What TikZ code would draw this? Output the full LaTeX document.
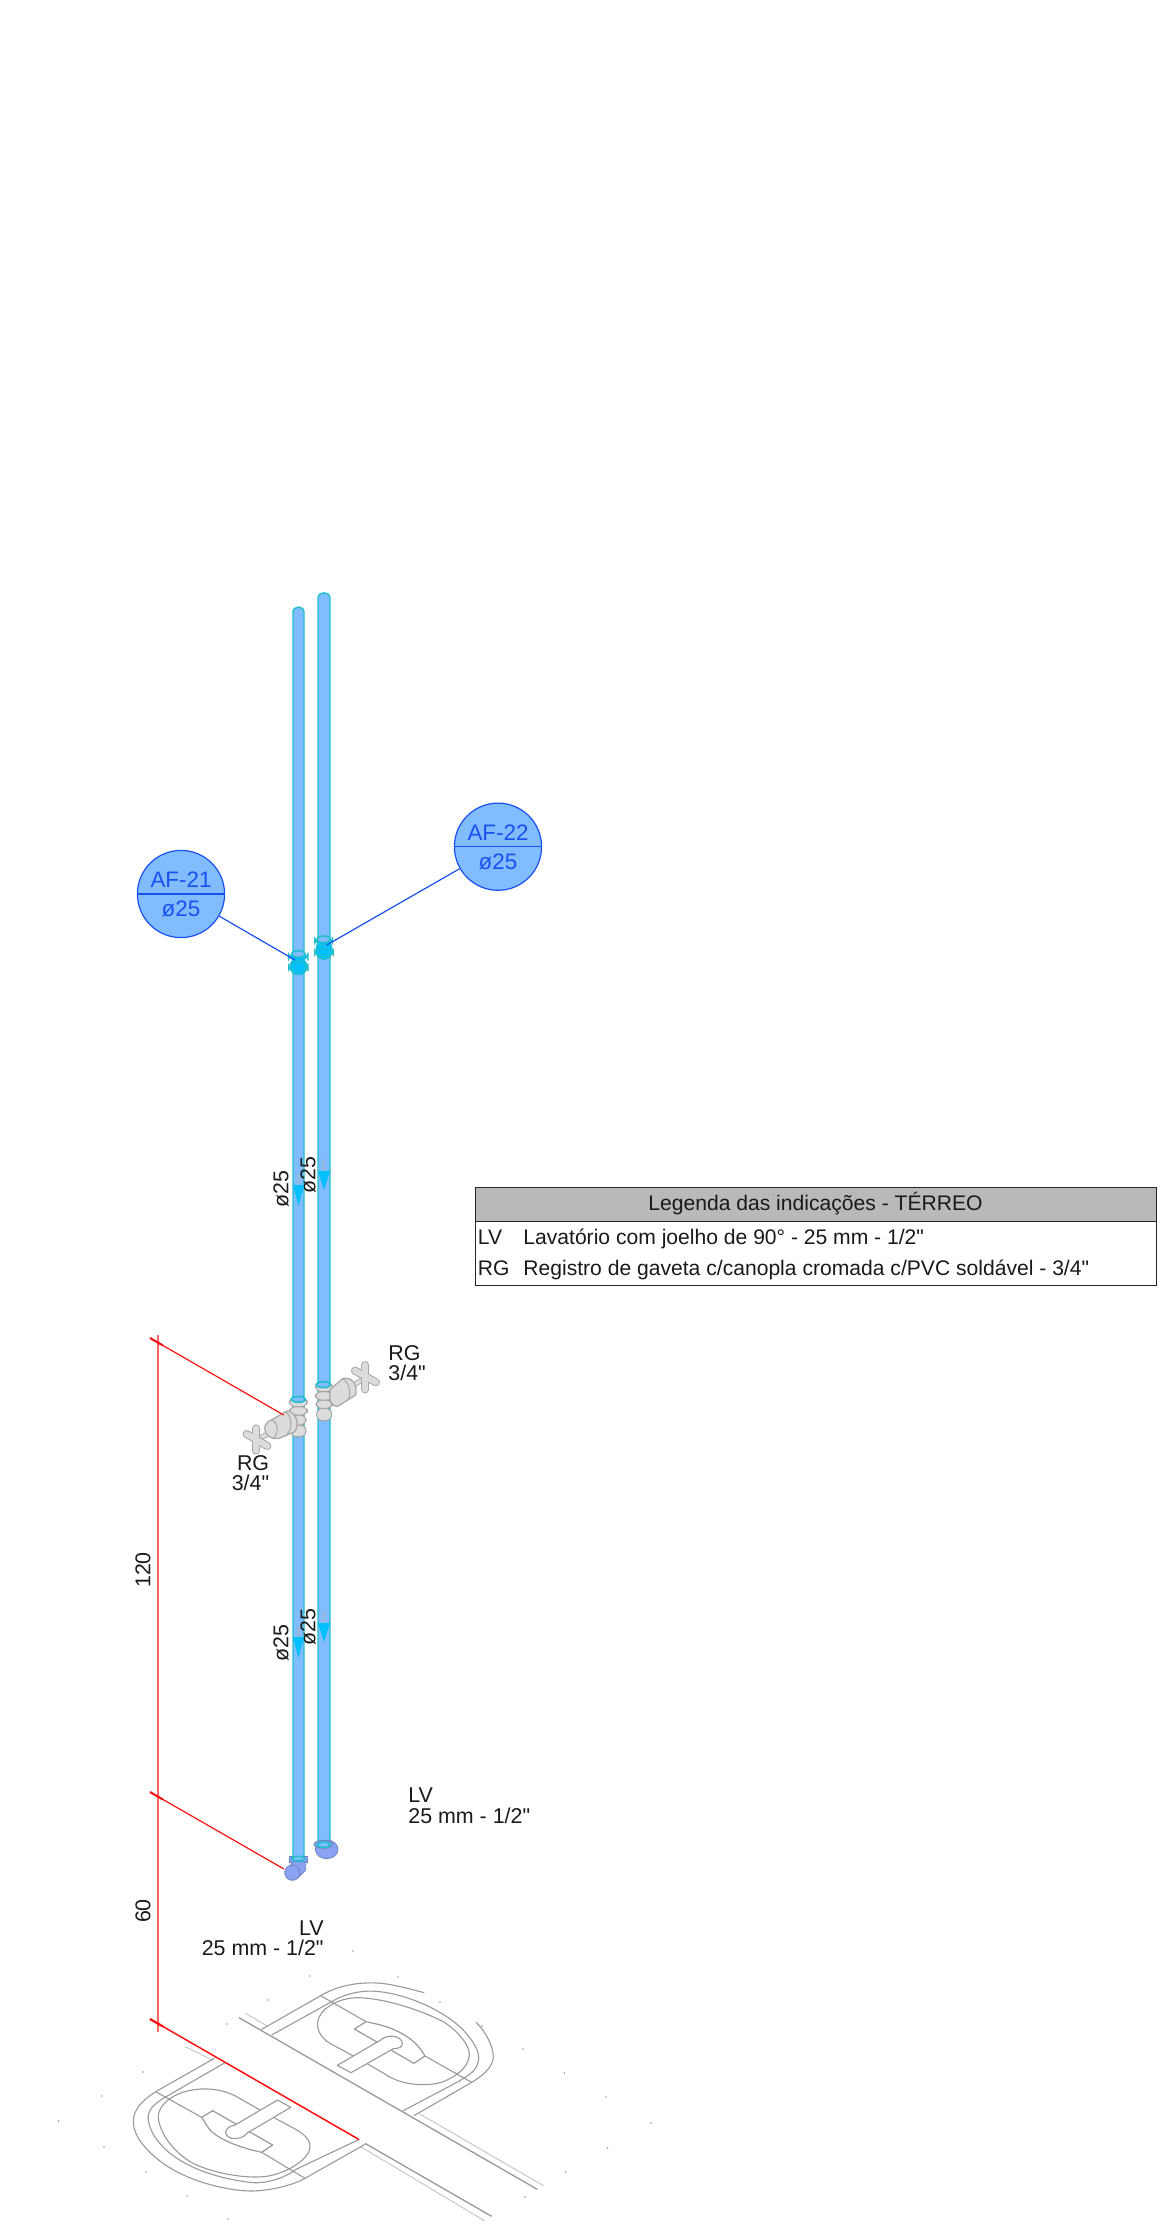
\documentclass[tikz,border=0pt]{standalone}
\usepackage{fontspec}
\setmainfont{Liberation Sans}
\newfontfamily\plainsans{Liberation Sans}
\definecolor{pipefill}{HTML}{80BCFF}
\definecolor{pipeedge}{HTML}{1FBFCB}
\definecolor{tagblue}{HTML}{1A4FF0}
\definecolor{cyanfit}{HTML}{00C0FF}
\definecolor{elbow}{HTML}{8AA2F2}
\definecolor{valvefill}{HTML}{DCDCDC}
\definecolor{valveedge}{HTML}{A6A6A6}
\definecolor{planline}{HTML}{999999}
\definecolor{planlight}{HTML}{C8C8C8}
\definecolor{dimred}{HTML}{FF1010}
\definecolor{headgrey}{HTML}{B9B9B9}
\tikzset{
  pipe/.style={fill=pipefill,draw=pipeedge,line width=0.7pt},
  tagcircle/.style={circle,draw=tagblue,fill=pipefill,line width=0.6pt,minimum size=43.6pt,inner sep=0pt},
  tagtext/.style={text=tagblue,font=\plainsans\fontsize{11.2}{13}\selectfont,inner sep=0pt},
  leader/.style={draw=tagblue,line width=0.6pt},
  dimline/.style={draw=dimred,line width=0.6pt},
  dimvert/.style={draw=dimred!65,line width=1pt},
  lab/.style={font=\plainsans\fontsize{10.7}{13}\selectfont,inner sep=0pt,text=black!90},
  legtext/.style={font=\plainsans\fontsize{10.55}{12}\selectfont,inner sep=0pt,text=black!90},
  plan/.style={draw=planline,line width=0.55pt,line join=round},
  planthin/.style={draw=planlight,line width=0.5pt},
  vring/.style={fill=valvefill,draw=valveedge,line width=0.5pt,rounded corners=3pt},
  vbody/.style={fill=valvefill,draw=valveedge,line width=0.6pt,line join=round},
  varmout/.style={draw=valveedge,line width=4pt,line cap=round},
  varmin/.style={draw=valvefill,line width=3pt,line cap=round},
  vstemout/.style={draw=valveedge,line width=2.6pt},
  vstemin/.style={draw=valvefill,line width=1.8pt},
  fitcy/.style={fill=cyanfit,draw=pipeedge,line width=0.5pt,rounded corners=4pt},
  ringtop/.style={fill=pipefill,draw=pipeedge,line width=0.8pt},
  flowarrow/.style={fill=cyanfit,draw=none},
  flowstem/.style={draw=black!30,line width=0.5pt},
  elb/.style={fill=elbow,draw=elbow!80!black,line width=0.4pt},
  speck/.style={fill=black!40,draw=none},
}
\begin{document}
\begin{tikzpicture}[x=0.5pt,y=-0.5pt]
\useasboundingbox (0,0) rectangle (1170,2227);

% ---------- plan (floor fixtures) ----------
\foreach \px/\py in {58.6/2121,102/2096,104/2147,146/2172,187/2196,228/2219,143/2072,227/2024,268/2000,310/1976,353/1951,398/1977,440/2002,482/2026,523/2049,564.5/2073,606/2097,651/2123,607.6/2148,565.7/2172,525/2197,483/2220}
  \fill[speck] (\px,\py) circle (0.45pt);

% right fixture and long lines (crop coordinates)
\begin{scope}[shift={(230,1960)},scale=1/3]
  \draw[plan,line width=0.65pt] (27,173) -- (922,688);
  \draw[plan,line width=0.65pt] (405,550) -- (785,769);
  \draw[planthin] (47,160) -- (110,197);
  \draw[planthin] (570,462) -- (940,677);
  \draw[planthin] (392,560) -- (760,780);
  \draw[plan] (95,208) -- (272,107) .. controls (330,72) and (400,65) .. (455,70) .. controls (500,75) and (550,90) .. (583,98);
  \draw[plan] (738,187) .. controls (760,205) and (790,255) .. (790,290) .. controls (790,325) and (750,352) .. (725,367) -- (552,467);
  \draw[plan] (125,225) -- (305,125) .. controls (345,100) and (400,90) .. (440,94) .. controls (530,102) and (640,150) .. (700,210) .. controls (730,245) and (752,275) .. (745,305) .. controls (738,335) and (715,345) .. (690,362) -- (518,453);
  \draw[plan] (370,288) -- (300,250) .. controls (265,230) and (255,195) .. (268,170) .. controls (285,135) and (340,112) .. (385,113) .. controls (460,115) and (560,145) .. (640,185) .. controls (680,210) and (720,255) .. (718,285) .. controls (715,325) and (675,350) .. (640,365) .. controls (590,382) and (510,375) .. (465,342) -- (410,310);
  \draw[plan] (272,107) -- (408,185);
  \draw[plan] (585,288) -- (725,367);
  \draw[plan,line width=0.6pt] (408,185) -- (373,207) -- (552,310) -- (585,288) .. controls (565,250) and (530,225) .. (490,208) .. controls (460,195) and (430,190) .. (408,185);
  \draw[plan,fill=white] (322,316) -- (452,240) .. controls (470,222) and (515,225) .. (517,250) .. controls (517,262) and (505,266) .. (490,266) -- (363,338) -- cycle;
\end{scope}

% left fixture (crop coordinates)
\begin{scope}[shift={(120,1990)},scale=1/3]
  \draw[planthin] (195,172) -- (205,174) -- (280,212);
  \draw[plan] (283,205) -- (107,305) .. controls (70,330) and (40,355) .. (40,395) .. controls (40,440) and (80,480) .. (110,505) .. controls (180,565) and (300,600) .. (390,603) .. controls (450,603) and (520,585) .. (555,565) -- (735,463);
  \draw[plan] (315,218) -- (135,322) .. controls (105,340) and (80,360) .. (85,390) .. controls (90,430) and (120,465) .. (150,490) .. controls (220,545) and (320,570) .. (400,578) .. controls (450,580) and (500,560) .. (530,537) -- (718,448);
  \draw[plan] (420,360) -- (350,320) .. controls (300,292) and (230,290) .. (180,310) .. controls (140,325) and (112,355) .. (115,385) .. controls (120,430) and (160,485) .. (215,518) .. controls (280,550) and (370,565) .. (430,560) .. controls (490,555) and (570,510) .. (570,470) .. controls (570,435) and (530,420) .. (462,383);
  \draw[plan] (107,305) -- (245,382);
  \draw[plan] (425,487) -- (555,565);
  \draw[plan,line width=0.6pt] (245,382) -- (278,362) -- (458,465) -- (425,487) .. controls (370,475) and (310,455) .. (275,425) .. controls (260,410) and (255,395) .. (245,382);
  \draw[plan,fill=white] (512,352) -- (473,330) -- (345,405) .. controls (315,410) and (305,435) .. (335,445) .. controls (355,448) and (375,440) .. (380,430) -- cycle;
\end{scope}

% ---------- pipes ----------
\filldraw[pipe] (298,1860) -- (293,1860) -- (293,612) .. controls (293,605.5) and (304,605.5) .. (304,612) -- (304,1860) -- (298,1860);
\filldraw[pipe] (324,1846) -- (318,1846) -- (318,598) .. controls (318,591) and (330,591) .. (330,598) -- (330,1846) -- (324,1846);

% ---------- couplings ----------
\begin{scope}[shift={(100,570)},scale=1/3]
  \draw[fitcy] (570,1165) rectangle (621,1214);
  \draw[fitcy] (566,1148) rectangle (624,1172);
  \draw[fitcy] (566,1180) rectangle (624,1205);
  \draw[ringtop] (595,1152) ellipse [x radius=20,y radius=10];
  \draw[fitcy] (648,1112) rectangle (696,1168);
  \draw[fitcy] (644,1100) rectangle (698,1125);
  \draw[fitcy] (644,1135) rectangle (700,1160);
  \draw[ringtop] (671,1108) ellipse [x radius=20,y radius=10];
\end{scope}

% ---------- flow arrows ----------
\draw[flowstem] (298,1175) -- (298,1186);
\draw[flowstem] (323.5,1159) -- (323.5,1171);
\fill[flowarrow] (293,1185) -- (304,1185) -- (298.5,1206) -- cycle;
\fill[flowarrow] (318,1171) -- (330,1171) -- (324,1190) -- cycle;
\draw[flowstem] (298,1627) -- (298,1638);
\draw[flowstem] (323.5,1611) -- (323.5,1623);
\fill[flowarrow] (293,1637) -- (304,1637) -- (298.5,1658) -- cycle;
\fill[flowarrow] (318,1623) -- (330,1623) -- (324,1642) -- cycle;

% ---------- valves (crop coordinates) ----------
\begin{scope}[shift={(130,1300)},scale=1/3]
  % left valve
  \draw[vstemout] (378,418) -- (425,398);
  \draw[vstemin] (378,418) -- (425,398);
  \draw[varmout] (350,402) -- (412,438);
  \draw[varmout] (378,385) -- (378,452);
  \draw[varmin] (350,402) -- (412,438);
  \draw[varmin] (378,385) -- (378,452);
  \draw[vring] (482,375) rectangle (528,410);
  \draw[vring] (482,345) rectangle (528,375);
  \draw[vring] (478,320) rectangle (532,345);
  \draw[vring] (478,292) rectangle (532,320);
  \draw[vbody] (404,385) .. controls (404,372) and (416,362) .. (424,360) -- (470,333) .. controls (495,333) and (512,370) .. (494,395) -- (450,414) .. controls (425,422) and (404,405) .. (404,385) -- cycle;
  \draw[valveedge,line width=0.5pt] (466,335) .. controls (485,345) and (490,385) .. (470,404);
  \draw[valveedge,line width=0.5pt] (424,360) .. controls (445,365) and (448,400) .. (430,416);
  \draw[ringtop] (505,298) ellipse [x radius=21,y radius=9];
  % right valve
  \draw[vstemout] (660,262) -- (708,232);
  \draw[vstemin] (660,262) -- (708,232);
  \draw[varmout] (675,212) -- (738,247);
  \draw[varmout] (706,195) -- (706,268);
  \draw[varmin] (675,212) -- (738,247);
  \draw[varmin] (706,195) -- (706,268);
  \draw[vring] (560,325) rectangle (605,362);
  \draw[vring] (558,300) rectangle (607,325);
  \draw[vring] (556,275) rectangle (608,300);
  \draw[vring] (556,246) rectangle (608,275);
  \draw[vbody] (600,268) -- (638,236) .. controls (665,228) and (684,255) .. (677,285) -- (625,318) .. controls (615,322) and (605,315) .. (600,300) -- cycle;
  \draw[valveedge,line width=0.5pt] (638,236) .. controls (655,245) and (668,280) .. (652,303);
  \draw[ringtop] (580,254) ellipse [x radius=21,y radius=9];
\end{scope}

% ---------- elbows at the bottom ----------
\begin{scope}[shift={(130,1760)},scale=1/3]
  \draw[elb] (478,288) rectangle (532,306);
  \draw[elb] (487,305) -- (527,305) -- (527,330) -- (505,352) -- (480,320) -- cycle;
  \draw[elb] (487,338) circle [radius=23];
  \draw[ringtop] (505,296) ellipse [x radius=20,y radius=7];
  \draw[elb] (590,268) ellipse [x radius=34,y radius=28];
  \draw[elb] (580,253) ellipse [x radius=28,y radius=12];
  \draw[ringtop] (581,254) ellipse [x radius=20,y radius=8];
\end{scope}

% ---------- dimensions ----------
\coordinate (dtop) at (158.3,1335);
\coordinate (dbot) at (158.3,2031.5);
\coordinate (t1a) at (150,1338);
\coordinate (t1b) at (283.7,1415);
\coordinate (t1c) at (163,1345.5);
\coordinate (t2a) at (150,1792);
\coordinate (t2b) at (284,1869);
\coordinate (t2c) at (163,1799.5);
\coordinate (t3a) at (150,2019);
\coordinate (t3b) at (359,2139.5);
\coordinate (t3c) at (163,2026.5);
\draw[dimvert] (dtop) -- (dbot);
\draw[dimline] (t1a) -- (t1b);
\draw[dimline] (t2a) -- (t2b);
\draw[dimline,line width=0.75pt] (t3a) -- (t3b);
\draw[dimline,line width=1pt] (t1a) -- (t1c);
\draw[dimline,line width=1pt] (t2a) -- (t2c);
\draw[dimline,line width=1.1pt] (t3a) -- (t3c);

\node[lab,rotate=90] (d120) at (143,1570) {120};
\node[lab,rotate=90] (d60) at (143,1911) {60};

% ---------- tags ----------
\coordinate (c21) at (295,960);
\coordinate (c22) at (326.7,945);
\node[tagcircle] (af21) at (181,894) {};
\node[tagcircle] (af22) at (498,846.7) {};
\draw[leader] (af21) -- (c21);
\draw[leader] (af22) -- (c22);
\draw[leader] (af21.west) -- (af21.east);
\draw[leader] (af22.west) -- (af22.east);
\node[tagtext] (t21a) at (181,880) {AF-21};
\node[tagtext] (t21b) at (181,909) {ø25};
\node[tagtext] (t22a) at (498,833) {AF-22};
\node[tagtext] (t22b) at (498,862) {ø25};

% ---------- pipe labels ----------
\node[lab,rotate=90] (s1) at (281,1189) {ø25};
\node[lab,rotate=90] (s2) at (308,1175) {ø25};
\node[lab,rotate=90] (s3) at (281,1643) {ø25};
\node[lab,rotate=90] (s4) at (308,1627) {ø25};

\node[lab,anchor=mid west] (rg1) at (388,1355) {RG};
\node[lab,anchor=mid west] (rg2) at (388,1375) {3/4"};
\node[lab,anchor=mid east] (rg3) at (269.5,1465) {RG};
\node[lab,anchor=mid east] (rg4) at (269.5,1485) {3/4"};
\node[lab,anchor=mid west] (lv1) at (408,1797) {LV};
\node[lab,anchor=mid west] (lv2) at (408,1818) {25 mm - 1/2"};
\node[lab,anchor=mid east] (lv3) at (324,1930) {LV};
\node[lab,anchor=mid east] (lv4) at (324,1950) {25 mm - 1/2"};

% ---------- legend ----------
\fill[headgrey] (475.5,1187) rectangle (1156,1221);
\draw[black!85,line width=0.5pt] (475.5,1187) rectangle (1156,1285);
\draw[black!85,line width=0.5pt] (475.5,1221) -- (1156,1221);
\node[legtext] (lh) at (815.5,1204) {Legenda das indicações - TÉRREO};
\node[legtext,anchor=mid west] (l1a) at (477.5,1239) {LV};
\node[legtext,anchor=mid west] (l1b) at (523,1239) {Lavatório com joelho de 90° - 25 mm - 1/2"};
\node[legtext,anchor=mid west] (l2a) at (477.5,1270) {RG};
\node[legtext,anchor=mid west] (l2b) at (523,1270) {Registro de gaveta c/canopla cromada c/PVC soldável - 3/4"};
\end{tikzpicture}
\end{document}
